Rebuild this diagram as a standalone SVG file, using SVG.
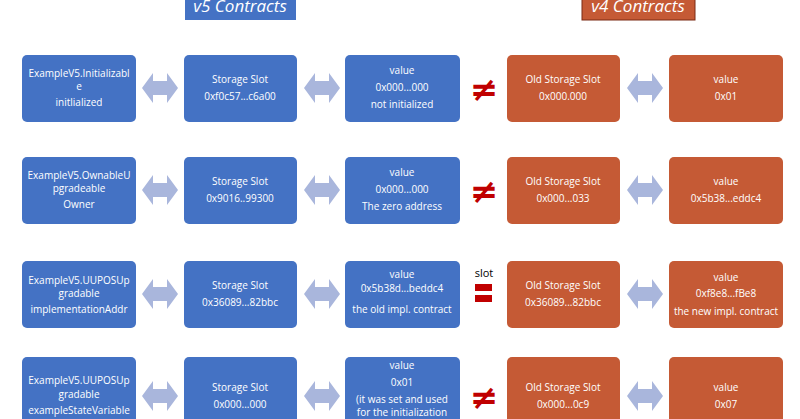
<svg xmlns="http://www.w3.org/2000/svg" width="800" height="419" viewBox="0 0 800 419">
<defs>
<style>
.b{fill:#4472c4}.o{fill:#c55a35}
text{font-family:"Open Sans","Liberation Sans",sans-serif;font-size:10px;fill:#fff;text-anchor:middle}
.h{font-size:17px;font-style:italic}
.ne{fill:#c00000;font-size:34px;font-weight:bold;font-family:"DejaVu Sans",sans-serif}
.sl{fill:#000;font-size:11px}
</style>
<path id="dar" d="M0,0 L11,-15 L11,-7 L25,-7 L25,-15 L36,0 L25,15 L25,7 L11,7 L11,15 Z" fill="#a9b6dc"/>
</defs>
<g id="headers">
<rect x="185" y="-10" width="111" height="30" class="b"/><text x="240" y="12" class="h">v5 Contracts</text>
<rect x="582" y="-10" width="113" height="30" class="o" stroke="#7a2a14"/><text x="638" y="12" class="h">v4 Contracts</text>
</g>
<g id="row1">
<rect x="22" y="55" width="114" height="67" rx="5" class="b"/><text x="79" y="77">ExampleV5.Initializabl</text><text x="79" y="90">e</text><text x="79" y="106">initlialized</text>
<rect x="184" y="55" width="113" height="67" rx="5" class="b"/><text x="240" y="83">Storage Slot</text><text x="240" y="100">0xf0c57...c6a00</text>
<rect x="345" y="55" width="115" height="67" rx="5" class="b"/><text x="402" y="74">value</text><text x="402" y="91">0x000...000</text><text x="402" y="108">not initialized</text>
<rect x="507" y="55" width="113" height="67" rx="5" class="o"/><text x="563" y="83">Old Storage Slot</text><text x="563" y="100">0x000.000</text>
<rect x="669" y="55" width="114" height="67" rx="5" class="o"/><text x="726" y="83">value</text><text x="726" y="100">0x01</text>
</g>
<g id="row2">
<rect x="22" y="157" width="114" height="67" rx="5" class="b"/><text x="79" y="179">ExampleV5.OwnableU</text><text x="79" y="192">pgradeable</text><text x="79" y="208">Owner</text>
<rect x="184" y="157" width="113" height="67" rx="5" class="b"/><text x="240" y="185">Storage Slot</text><text x="240" y="202">0x9016..99300</text>
<rect x="345" y="157" width="115" height="67" rx="5" class="b"/><text x="402" y="176">value</text><text x="402" y="193">0x000...000</text><text x="402" y="210">The zero address</text>
<rect x="507" y="157" width="113" height="67" rx="5" class="o"/><text x="563" y="185">Old Storage Slot</text><text x="563" y="202">0x000...033</text>
<rect x="669" y="157" width="114" height="67" rx="5" class="o"/><text x="726" y="185">value</text><text x="726" y="202">0x5b38...eddc4</text>
</g>
<g id="row3">
<rect x="22" y="261" width="114" height="67" rx="5" class="b"/><text x="79" y="284">ExampleV5.UUPOSUp</text><text x="79" y="297">gradable</text><text x="79" y="313">implementationAddr</text>
<rect x="184" y="261" width="113" height="67" rx="5" class="b"/><text x="240" y="289">Storage Slot</text><text x="240" y="306">0x36089...82bbc</text>
<rect x="345" y="261" width="115" height="67" rx="5" class="b"/><text x="402" y="278">value</text><text x="402" y="292">0x5b38d...beddc4</text><text x="402" y="313">the old impl. contract</text>
<rect x="507" y="261" width="113" height="67" rx="5" class="o"/><text x="563" y="289">Old Storage Slot</text><text x="563" y="306">0x36089...82bbc</text>
<rect x="669" y="261" width="114" height="67" rx="5" class="o"/><text x="726" y="281">value</text><text x="726" y="297">0xf8e8...fBe8</text><text x="726" y="315">the new impl. contract</text>
</g>
<g id="row4">
<rect x="22" y="357" width="114" height="75" rx="5" class="b"/><text x="79" y="384">ExampleV5.UUPOSUp</text><text x="79" y="398">gradable</text><text x="79" y="414">exampleStateVariable</text>
<rect x="184" y="357" width="113" height="75" rx="5" class="b"/><text x="240" y="391">Storage Slot</text><text x="240" y="408">0x000...000</text>
<rect x="345" y="357" width="115" height="75" rx="5" class="b"/><text x="402" y="369">value</text><text x="402" y="386">0x01</text><text x="402" y="403">(it was set and used</text><text x="402" y="416">for the initialization</text>
<rect x="507" y="357" width="113" height="75" rx="5" class="o"/><text x="563" y="391">Old Storage Slot</text><text x="563" y="408">0x000...0c9</text>
<rect x="669" y="357" width="114" height="75" rx="5" class="o"/><text x="726" y="391">value</text><text x="726" y="408">0x07</text>
</g>
<g id="connectors">
<use href="#dar" x="142" y="88"/><use href="#dar" x="304" y="88"/><use href="#dar" x="627" y="88"/>
<use href="#dar" x="142" y="190"/><use href="#dar" x="304" y="190"/><use href="#dar" x="627" y="190"/>
<use href="#dar" x="142" y="294"/><use href="#dar" x="304" y="294"/><use href="#dar" x="627" y="294"/>
<use href="#dar" x="142" y="396"/><use href="#dar" x="304" y="396"/><use href="#dar" x="627" y="396"/>
<text x="484" y="101" class="ne">≠</text>
<text x="484" y="203" class="ne">≠</text>
<text x="484" y="277" class="sl">slot</text>
<rect x="475" y="284" width="17" height="7" fill="#c00000"/><rect x="475" y="295" width="17" height="7" fill="#c00000"/>
<text x="484" y="409" class="ne">≠</text>
</g>
</svg>
